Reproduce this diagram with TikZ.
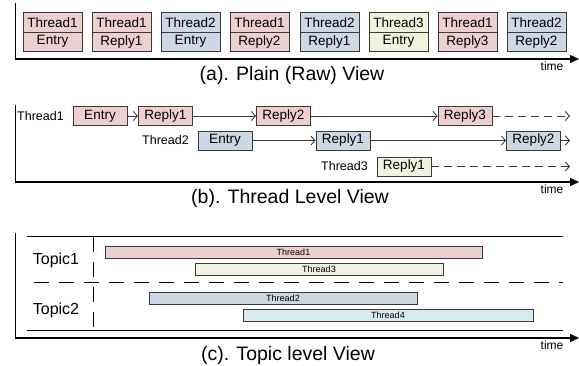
\documentclass[tikz,border=0pt]{standalone}
\usepackage{fontspec}
\setmainfont{Liberation Sans}
\usetikzlibrary{arrows.meta}
\definecolor{cpink}{HTML}{EDCFCF}
\definecolor{cblue}{HTML}{CCD8E6}
\definecolor{cgreen}{HTML}{EEF2DF}
\definecolor{ccyan}{HTML}{D5EBF0}
\definecolor{cedge}{HTML}{3A3A3A}
\begin{document}
\begin{tikzpicture}[x=1pt,y=-1pt,
  cell/.style={draw=cedge, line width=0.9pt, minimum width=59pt, inner sep=0pt, font=\fontsize{13.5}{15}\selectfont},
  msg/.style={draw=cedge, line width=0.9pt, minimum width=54pt, minimum height=19pt, inner sep=0pt, font=\fontsize{13.5}{15}\selectfont},
  bar/.style={draw=cedge, line width=0.9pt, minimum height=12pt, inner sep=0pt, font=\fontsize{9}{10}\selectfont},
  axis/.style={line width=1.3pt, -{Triangle[length=9pt,width=8pt]}},
  frame/.style={line width=1pt},
  conn/.style={line width=0.9pt, cedge, -{Straight Barb[length=4pt,width=9pt]}},
  dconn/.style={conn, dash pattern=on 8pt off 5pt},
  lbl/.style={font=\fontsize{12.5}{14}\selectfont, inner sep=0pt},
  timel/.style={font=\fontsize{12}{14}\selectfont, inner sep=0pt},
  captxt/.style={font=\fontsize{19.5}{22}\selectfont, inner sep=0pt},
  topic/.style={font=\fontsize{16}{18}\selectfont, inner sep=0pt},
  dsh/.style={line width=1pt, dash pattern=on 15pt off 10pt}]
\useasboundingbox (0,0) rectangle (579,366);

% ---------- (a) ----------
\coordinate (aO) at (15,59);
\coordinate (aT) at (15,3);
\coordinate (aE) at (579,59);
\draw[frame] (aT) -- (aO);
\draw[axis] (aO) -- (aE);
\foreach \i/\cx/\th/\rp/\col in {1/52.5/Thread1/Entry/cpink, 2/121.5/Thread1/Reply1/cpink, 3/190.5/Thread2/Entry/cblue, 4/259.5/Thread1/Reply2/cpink, 5/329.5/Thread2/Reply1/cblue, 6/398.5/Thread3/Entry/cgreen, 7/467.5/Thread1/Reply3/cpink, 8/536.5/Thread2/Reply2/cblue}{
  \node[cell, fill=\col, minimum height=20.5pt] (a\i t) at (\cx,22.25) {\th};
  \node[cell, fill=\col, minimum height=18.5pt] (a\i b) at (\cx,41.75) {\rp};
}
\node[timel] (atime) at (552,66) {time};
\node[captxt] (acap) at (292,75.5) {(a). Plain (Raw) View};

% ---------- (b) ----------
\coordinate (bO) at (15,182);
\coordinate (bT) at (15,105);
\coordinate (bE) at (579,182);
\draw[frame] (bT) -- (bO);
\draw[axis] (bO) -- (bE);
\node[lbl, anchor=west] (bl1) at (17,116) {Thread1};
\node[msg, fill=cpink] (b1a) at (100,116) {Entry};
\node[msg, fill=cpink] (b1b) at (165.5,116) {Reply1};
\node[msg, fill=cpink] (b1c) at (283.5,116) {Reply2};
\node[msg, fill=cpink] (b1d) at (465,116) {Reply3};
\coordinate (b1z) at (570,116);
\draw[conn] (b1a) -- (b1b);
\draw[conn] (b1b) -- (b1c);
\draw[conn] (b1c) -- (b1d);
\draw[dconn] (b1d) -- (b1z);

\node[lbl, anchor=east] (bl2) at (189,140.5) {Thread2};
\node[msg, fill=cblue] (b2a) at (225,140.5) {Entry};
\node[msg, fill=cblue] (b2b) at (343,140.5) {Reply1};
\node[msg, fill=cblue] (b2c) at (533.5,140.5) {Reply2};
\coordinate (b2z) at (570,140.5);
\draw[conn] (b2a) -- (b2b);
\draw[conn] (b2b) -- (b2c);
\draw[conn] (b2c) -- (b2z);

\node[lbl, anchor=east] (bl3) at (368,166.5) {Thread3};
\node[msg, fill=cgreen] (b3a) at (404,166.5) {Reply1};
\coordinate (b3z) at (570,166.5);
\draw[dconn] (b3a) -- (b3z);

\node[timel] (btime) at (552,189) {time};
\node[captxt] (bcap) at (290,198.5) {(b). Thread Level View};

% ---------- (c) ----------
\coordinate (cO) at (15,338);
\coordinate (cT) at (15,233);
\coordinate (cE) at (579,338);
\draw[frame] (cT) -- (cO);
\draw[axis] (cO) -- (cE);
\coordinate (ctl) at (27,237);
\coordinate (ctr) at (563,237);
\coordinate (cbl) at (27,331);
\coordinate (cbr) at (563,331);
\draw[frame] (ctl) -- (ctr);
\draw[frame] (cbl) -- (cbr);
\coordinate (cvt) at (93,237);
\coordinate (cvb) at (93,331);
\draw[dsh] (cvt) -- (cvb);
\coordinate (chl) at (34,283);
\coordinate (chr) at (563,283);
\draw[dsh] (chl) -- (chr);
\node[topic] (top1) at (56,260) {Topic1};
\node[topic] (top2) at (56,310) {Topic2};
\node[bar, fill=cpink, minimum width=377pt] (t1) at (293.5,252) {Thread1};
\node[bar, fill=cgreen, minimum width=248pt] (t3) at (319,269) {Thread3};
\node[bar, fill=cblue, minimum width=268pt] (t2) at (283,298) {Thread2};
\node[bar, fill=ccyan, minimum width=290pt] (t4) at (388,315) {Thread4};
\node[timel] (ctime) at (552,345) {time};
\node[captxt] (ccap) at (288,355.5) {(c). Topic level View};
\end{tikzpicture}
\end{document}
